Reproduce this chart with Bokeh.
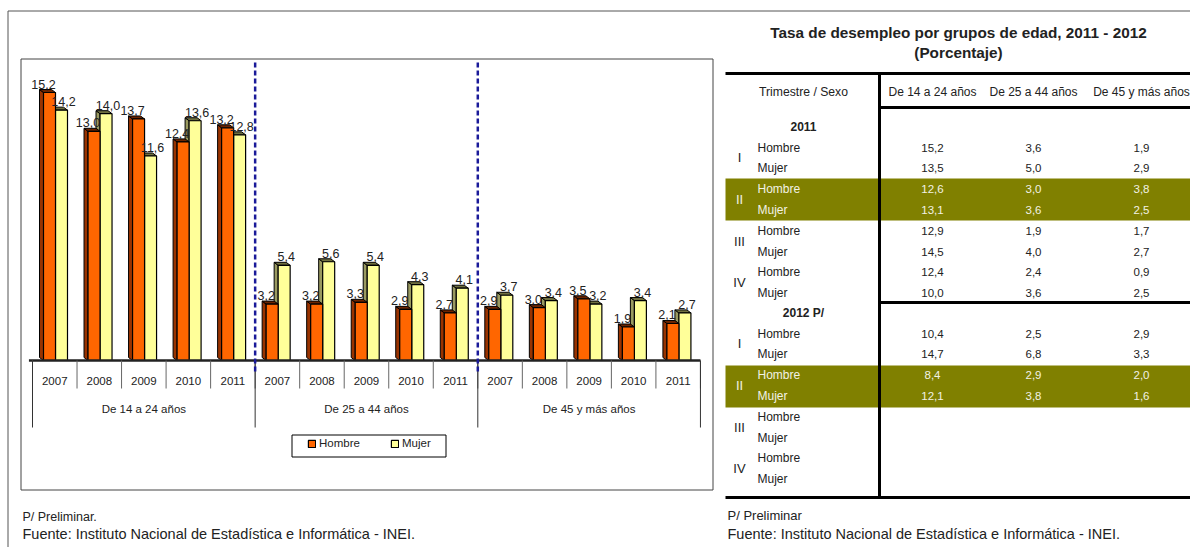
from bokeh.plotting import figure
from bokeh.models import Range1d, Legend, LegendItem
from bokeh.core.properties import value
from bokeh.embed import file_html
from bokeh.resources import INLINE

# ---------------- data ----------------
years = ["2007", "2008", "2009", "2010", "2011"]
groups = ["De 14 a 24 años", "De 25 a 44 años", "De 45 y más años"]

hombre_14_24 = [15.2, 13.0, 13.7, 12.4, 13.2]
mujer_14_24 = [14.2, 14.0, 11.6, 13.6, 12.8]
hombre_25_44 = [3.2, 3.2, 3.3, 2.9, 2.7]
mujer_25_44 = [5.4, 5.6, 5.4, 4.3, 4.1]
hombre_45 = [2.9, 3.0, 3.5, 1.9, 2.1]
mujer_45 = [3.7, 3.4, 3.2, 3.4, 2.7]

series_labels = ["Hombre", "Mujer"]

table_title = "Tasa de desempleo por grupos de edad, 2011 - 2012"
table_subtitle = "(Porcentaje)"
table_head = ["Trimestre / Sexo", "De 14 a 24 años", "De 25 a 44 años", "De 45 y más años"]
table_years = ["2011", "2012 P/"]
trimestres = ["I", "II", "III", "IV"]

# rows: I-H, I-M, II-H, II-M, III-H, III-M, IV-H, IV-M
t2011_14_24 = [15.2, 13.5, 12.6, 13.1, 12.9, 14.5, 12.4, 10.0]
t2011_25_44 = [3.6, 5.0, 3.0, 3.6, 1.9, 4.0, 2.4, 3.6]
t2011_45 = [1.9, 2.9, 3.8, 2.5, 1.7, 2.7, 0.9, 2.5]
t2012_14_24 = [10.4, 14.7, 8.4, 12.1, None, None, None, None]
t2012_25_44 = [2.5, 6.8, 2.9, 3.8, None, None, None, None]
t2012_45 = [2.9, 3.3, 2.0, 1.6, None, None, None, None]

note_prelim_left = "P/ Preliminar."
note_prelim_right = "P/ Preliminar"
note_source = "Fuente: Instituto Nacional de Estadística e Informática - INEI."

# ---------------- style / layout ----------------
FONT = "'Liberation Sans', Arial, sans-serif"
ORANGE, ORANGE_SIDE, ORANGE_TOP = "#FF6600", "#993300", "#6b2400"
YELLOW, YELLOW_SIDE, YELLOW_TOP = "#FFFF99", "#9a9a60", "#707040"
OLIVE = "#808000"
TXT = "#222222"
LIGHT = "#f2f2e4"

W, H = 1190, 547
CELL = 44.53          # px per year cell
X0 = 32               # x of first cell
BASE = 360            # y of bar baseline
PXU = 17.63           # px per percentage point

p = figure(width=W, height=H, x_range=Range1d(0, W), y_range=Range1d(H, 0),
           output_backend="svg", toolbar_location=None, min_border=0,
           x_axis_location=None, y_axis_location=None, outline_line_color=None,
           background_fill_color="white", border_fill_color="white")
p.xgrid.visible = False
p.ygrid.visible = False

p.extra_x_ranges = {"cat": Range1d(-X0 / CELL, (W - X0) / CELL)}
p.extra_y_ranges = {"val": Range1d(-(H - BASE) / PXU, BASE / PXU)}


def fmt(v):
    return "" if v is None else f"{v:.1f}".replace(".", ",")


def txt(x, y, texts, size=12, font=FONT, align="left", color=TXT, style="normal",
        xr="default", yr="default", baseline="middle", x_offset=0, y_offset=0):
    p.text(x=x, y=y, text=texts, text_font=value(font), text_font_size=f"{size}px",
           text_align=align, text_baseline=baseline, text_color=color,
           text_font_style=style, x_range_name=xr, y_range_name=yr,
           x_offset=x_offset, y_offset=y_offset)


# ---------------- frames ----------------
p.line([7.5, 7.5, W], [H, 10.5, 10.5], line_color="#555555", line_width=1)
p.quad(left=20.5, right=712.5, top=58.5, bottom=489.5, fill_color=None,
       line_color="#444444", line_width=1)

# ---------------- bars ----------------
h_vals = hombre_14_24 + hombre_25_44 + hombre_45
m_vals = mujer_14_24 + mujer_25_44 + mujer_45
idx = list(range(len(h_vals)))
OL, OR_ = 11 / CELL, 23 / CELL
YL, YR = 23 / CELL, 35 / CELL
DX, DY = 4 / CELL, 3 / PXU


def bar3d(lefts, rights, vals, front, side, top):
    p.patches(xs=[[l, l - DX, l - DX, l] for l in lefts],
              ys=[[0, DY, v + DY, v] for v in vals],
              fill_color=side, line_color="black", line_width=1,
              x_range_name="cat", y_range_name="val")
    p.patches(xs=[[l, l - DX, r - DX, r] for l, r in zip(lefts, rights)],
              ys=[[v, v + DY, v + DY, v] for v in vals],
              fill_color=top, line_color="black", line_width=1,
              x_range_name="cat", y_range_name="val")
    return p.quad(left=lefts, right=rights, bottom=0, top=vals, fill_color=front,
                  line_color="black", line_width=1.2,
                  x_range_name="cat", y_range_name="val")


y_front = bar3d([k + YL for k in idx], [k + YR for k in idx], m_vals,
                YELLOW, YELLOW_SIDE, YELLOW_TOP)
o_front = bar3d([k + OL for k in idx], [k + OR_ for k in idx], h_vals,
                ORANGE, ORANGE_SIDE, ORANGE_TOP)

# value labels
txt([k + (OL + OR_) / 2 for k in idx], h_vals, [fmt(v) for v in h_vals], size=12.5,
    align="center", xr="cat", yr="val", baseline="bottom", x_offset=-6, y_offset=-4)
txt([k + (YL + YR) / 2 for k in idx], m_vals, [fmt(v) for v in m_vals], size=12.5,
    align="center", xr="cat", yr="val", baseline="bottom", x_offset=2, y_offset=-4)

# floor line
n = len(idx)
p.segment(x0=[-0.08], y0=[0], x1=[n], y1=[0], line_color="#222222", line_width=2.5,
          x_range_name="cat", y_range_name="val")

# category axis (years and groups)
p.segment(x0=list(range(n + 1)), y0=[BASE] * (n + 1), x1=list(range(n + 1)),
          y1=[388] * (n + 1), line_color="#666666", line_width=1, x_range_name="cat")
gb = [g * len(years) for g in range(len(groups) + 1)]
p.segment(x0=gb, y0=[BASE] * len(gb), x1=gb, y1=[427] * len(gb),
          line_color="#333333", line_width=1, x_range_name="cat")
txt([k + 0.5 for k in idx], [380] * n, years * len(groups), size=11.5, align="center", xr="cat")
txt([g * len(years) + len(years) / 2 for g in range(len(groups))], [408] * len(groups),
    groups, size=11.5, align="center", xr="cat")

# dashed separators between groups
sep = [g * len(years) for g in range(1, len(groups))]
p.segment(x0=sep, y0=[62] * len(sep), x1=sep, y1=[372] * len(sep),
          line_color="#1a1a99", line_width=2.5, line_dash="5 3", x_range_name="cat")

# legend
p.quad(left=291.5, right=445.5, top=434.5, bottom=456.5, fill_color="white",
       line_color="black", line_width=1)
legend = Legend(items=[LegendItem(label=series_labels[0], renderers=[o_front]),
                       LegendItem(label=series_labels[1], renderers=[y_front])],
                location=(307, 98), orientation="horizontal", glyph_width=9,
                glyph_height=9, label_height=9, label_width=60, label_standoff=3,
                spacing=11, padding=0, margin=0, border_line_color=None,
                background_fill_alpha=0, label_text_font=FONT,
                label_text_font_size="11.5px", label_text_color=TXT)
p.add_layout(legend)

# notes left
txt([22], [516], [note_prelim_left], size=12.5)
txt([22], [533], [note_source], size=14.5)

# ---------------- table ----------------
txt([958], [32], [table_title], size=15.3, align="center", style="bold")
txt([958], [52], [table_subtitle], size=15.3, align="center", style="bold")

# highlight rows (trimestre II)
p.quad(left=[725, 725], right=[W, W], top=[178, 365], bottom=[220, 407],
       fill_color=OLIVE, line_color=None)

# rules
p.segment(x0=[725, 880, 880, 725], y0=[73, 107, 302, 497],
          x1=[W] * 4, y1=[73, 107, 302, 497], line_color="black", line_width=3)
p.segment(x0=[879], y0=[72], x1=[879], y1=[498], line_color="black", line_width=3)

col_x = [932, 1033, 1141]
txt([803], [91], [table_head[0]], size=12.2, align="center")
txt([932, 1033, 1141], [91] * 3, table_head[1:], size=12, align="center")

ROW = 20.8
blocks = [(table_years[0], 126, 147, [t2011_14_24, t2011_25_44, t2011_45]),
          (table_years[1], 312, 333, [t2012_14_24, t2012_25_44, t2012_45])]
for yr, ylab, y0, cols in blocks:
    txt([803], [ylab], [yr], size=12, align="center", style="bold")
    rows_y = [y0 + i * ROW for i in range(8)]
    colors = [(LIGHT if (i // 2) == 1 else TXT) for i in range(8)]
    txt([757] * 8, rows_y, series_labels * 4, size=12, color=colors)
    txt([739] * 4, [y0 + (2 * q + 0.5) * ROW for q in range(4)], trimestres, size=13,
        align="center", color=[(LIGHT if q == 1 else TXT) for q in range(4)])
    for cx, vals in zip(col_x, cols):
        txt([cx] * 8, rows_y, [fmt(v) for v in vals], size=11.5, align="center", color=colors)

txt([727], [515], [note_prelim_right], size=13)
txt([727], [533], [note_source], size=14.5)

open("out.html", "w").write(file_html(p, INLINE))
